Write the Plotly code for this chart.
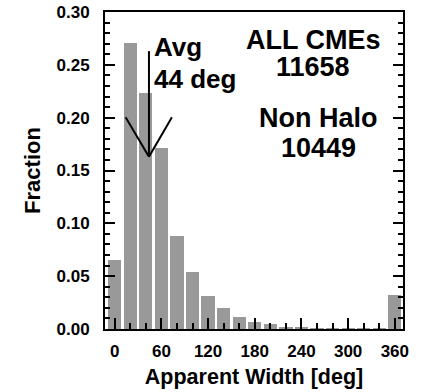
import plotly.graph_objects as go

# Data
width_bins = [0, 20, 40, 60, 80, 100, 120, 140, 160, 180, 200, 220, 240, 260, 280, 300, 320, 340, 360]
fraction = [0.065, 0.271, 0.223, 0.171, 0.088, 0.0535, 0.031, 0.0196, 0.011, 0.0066,
            0.0047, 0.0022, 0.001, 0.0005, 0.0003, 0.0002, 0.0002, 0.0002, 0.032]
avg_width = 44
x_ticks = [0, 60, 120, 180, 240, 300, 360]
y_ticks = [0.0, 0.05, 0.10, 0.15, 0.20, 0.25, 0.30]
y_ticklabels = ["0.00", "0.05", "0.10", "0.15", "0.20", "0.25", "0.30"]

FONT = "Liberation Sans, Arial, Helvetica, sans-serif"

fig = go.Figure()
fig.add_trace(go.Bar(x=width_bins, y=fraction, width=17,
                     marker=dict(color="#999999", line=dict(width=0)),
                     showlegend=False))

# Average arrow
arrow = dict(type="line", xref="x", yref="y", line=dict(color="black", width=2))
fig.add_shape(**arrow, x0=avg_width, y0=0.263, x1=avg_width, y1=0.163)
fig.add_shape(**arrow, x0=avg_width - 30, y0=0.2005, x1=avg_width, y1=0.163)
fig.add_shape(**arrow, x0=avg_width + 29.5, y0=0.2005, x1=avg_width, y1=0.163)

def txt(x, y, s, xanchor="center", size=27, h=None):
    kw = {}
    if h:
        kw["height"] = h
    fig.add_annotation(x=x, y=y, xref="paper", yref="paper", text=s, showarrow=False,
                       xanchor=xanchor, yanchor="middle", **kw,
                       font=dict(family=FONT, size=size, color="black", weight="bold"))

def px(xp, yp):
    return (xp - 105) / (403 - 105), (329 - yp) / (329 - 12)

x, y = px(152, 47); txt(x, y, "Avg", "left", 26)
x, y = px(152, 79); txt(x, y, "44 deg", "left", 26)
x, y = px(313, 40); txt(x, y, "ALL CMEs", h=24)
x, y = px(313, 67); txt(x, y, "11658", h=24)
x, y = px(318, 118); txt(x, y, "Non Halo", h=24)
x, y = px(318, 148); txt(x, y, "10449", h=24)

fig.update_xaxes(range=[-12.5, 370.5], tickmode="array", tickvals=x_ticks,
                 ticks="inside", ticklen=11, tickwidth=2, tickcolor="black",
                 minor=dict(ticks="inside", dtick=20, tick0=0, ticklen=6, tickwidth=2, tickcolor="black"),
                 showline=True, linecolor="black", linewidth=2, mirror=True,
                 showgrid=False, zeroline=False, ticklabelstandoff=6, automargin=False,
                 tickfont=dict(family=FONT, size=17, color="black", weight="bold"),
                 title=dict(text="Apparent Width [deg]", standoff=9,
                            font=dict(family=FONT, size=21.5, color="black", weight="bold")))
fig.update_yaxes(range=[0, 0.30], tickmode="array", tickvals=y_ticks, ticktext=y_ticklabels,
                 ticks="inside", ticklen=10, tickwidth=2, tickcolor="black",
                 minor=dict(ticks="inside", dtick=0.01, tick0=0, ticklen=5, tickwidth=2, tickcolor="black"),
                 showline=True, linecolor="black", linewidth=2, mirror="ticks",
                 showgrid=False, zeroline=False, ticklabelstandoff=10, automargin=False,
                 tickfont=dict(family=FONT, size=17, color="black", weight="bold"),
                 title=dict(text="Fraction", standoff=10,
                            font=dict(family=FONT, size=22, color="black", weight="bold")))

fig.update_layout(width=423, height=392, margin=dict(l=105, r=20, t=12, b=63),
                  plot_bgcolor="white", paper_bgcolor="white", bargap=0)

fig.write_html("out.html")
